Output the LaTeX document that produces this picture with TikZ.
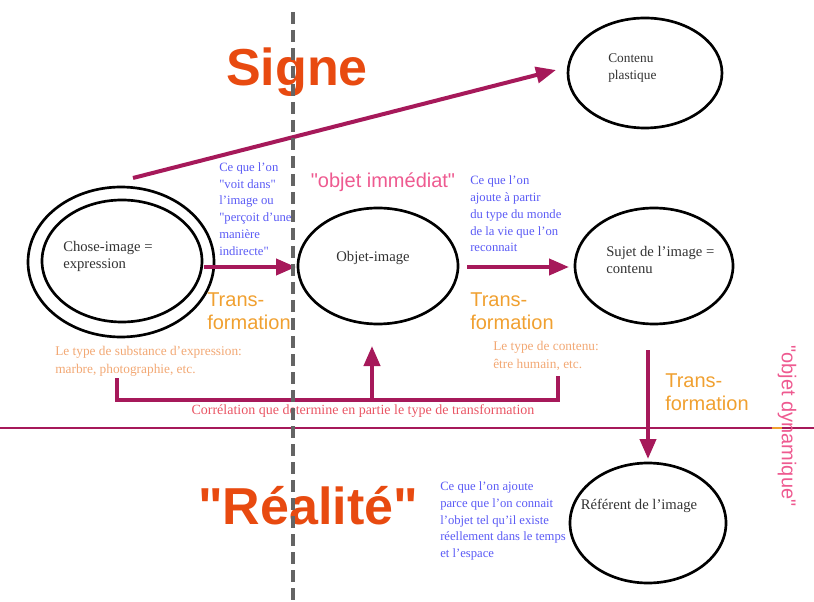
\documentclass[tikz,border=0pt]{standalone}
\usepackage{fontspec}
\setmainfont{Liberation Serif}[Ligatures=TeXOff]
\setsansfont{Liberation Sans}[Ligatures=TeXOff]
\usetikzlibrary{arrows.meta,shapes.geometric}
\definecolor{maroon}{RGB}{166,25,90}
\definecolor{signeorange}{RGB}{232,74,16}
\definecolor{transorange}{RGB}{240,160,48}
\definecolor{pinktext}{RGB}{238,90,144}
\definecolor{bluetext}{RGB}{90,90,245}
\definecolor{peachtext}{RGB}{242,168,116}
\definecolor{corrtext}{RGB}{233,85,100}
\definecolor{darktext}{RGB}{50,50,50}
\definecolor{dashgray}{RGB}{100,100,100}
\begin{document}
\begin{tikzpicture}[x=0.75pt,y=-0.75pt,
  conn/.style={draw=maroon, line width=3pt},
  arr/.style={conn, -{Triangle[length=15pt,width=12pt]}},
  oval/.style={ellipse, draw=black, line width=2pt, inner sep=0pt},
  lbl/.style={text=darktext, font=\fontsize{11}{12.75}\selectfont, align=left, inner sep=0pt},
  note/.style={text=bluetext, font=\fontsize{9.5}{12.6}\selectfont, align=left, inner sep=0pt},
  peach/.style={text=peachtext, font=\fontsize{10}{13.5}\selectfont, align=left, inner sep=0pt},
  corr/.style={text=corrtext, font=\fontsize{10.5}{12}\selectfont, inner sep=0pt},
  trans/.style={text=transorange, font=\sffamily\fontsize{15}{17}\selectfont, align=left, inner sep=0pt},
  big/.style={text=signeorange, font=\sffamily\bfseries\fontsize{39}{44}\selectfont, inner sep=0pt},
  pinklbl/.style={text=pinktext, font=\sffamily\fontsize{15}{17}\selectfont, inner sep=0pt},
]
\useasboundingbox (0,0) rectangle (814,602);

% horizontal separator
\coordinate (hl) at (0,428);
\coordinate (hr) at (814,428);
\coordinate (ol) at (772,428);
\coordinate (or) at (782,428);
\draw[maroon, line width=2pt] (hl) -- (hr);
\draw[transorange, line width=2pt] (ol) -- (or);

% ellipses
\node[oval, minimum width=139.5pt, minimum height=112.5pt] (choseout) at (121,262) {};
\node[oval, minimum width=120pt, minimum height=91.5pt] (chosein) at (122,261) {};
\node[lbl, anchor=west] (chosetxt) at (63,256) {Chose-image =\\expression};

\node[oval, minimum width=120pt, minimum height=87pt] (objet) at (378,266) {};
\node[lbl] (objettxt) at (373,258) {Objet-image};

\node[oval, minimum width=118.5pt, minimum height=87pt] (sujet) at (654,266) {};
\node[lbl, anchor=west] (sujettxt) at (606,260) {Sujet de l’image =\\contenu};

\node[oval, minimum width=115.5pt, minimum height=82.5pt] (contenu) at (645,73) {};
\node[lbl, anchor=west, font=\fontsize{10}{12.75}\selectfont] (contenutxt) at (608,68) {Contenu\\plastique};

\node[oval, minimum width=117pt, minimum height=90pt] (referent) at (648,523) {};
\node[lbl] (referenttxt) at (639,506) {Référent de l’image};

% arrows
\coordinate (a1s) at (133,178);
\coordinate (a1e) at (556,70);
\draw[arr] (a1s) -- (a1e);
\coordinate (a2s) at (204,267);
\coordinate (a2e) at (296,267);
\draw[arr] (a2s) -- (a2e);
\coordinate (a3s) at (467,267);
\coordinate (a3e) at (569,267);
\draw[arr] (a3s) -- (a3e);
\coordinate (a4s) at (648,350);
\coordinate (a4e) at (648,459);
\draw[arr] (a4s) -- (a4e);

% bracket
\coordinate (b1) at (117,378);
\coordinate (b2) at (117,400);
\coordinate (b3) at (558,400);
\coordinate (b4) at (558,376);
\draw[conn, line join=miter] (b1) -- (b2) -- (b3) -- (b4);
\coordinate (bm) at (372,400);
\coordinate (bt) at (372,346);
\draw[arr] (bm) -- (bt);

% texts
\node[big] (signe) at (297,72) {Signe};
\node[big] (realite) at (308,506) {"Réalité"};
\node[pinklbl] (immediat) at (383,182) {"objet immédiat"};
\node[pinklbl, rotate=-90] (dynamique) at (787,426) {"objet dynamique"};

\node[trans, anchor=west] (t1) at (207,311) {Trans-\\formation};
\node[trans, anchor=west] (t2) at (470,311) {Trans-\\formation};
\node[trans, anchor=west] (t3) at (665,392) {Trans-\\formation};

\node[note, anchor=west] (n1) at (219,209) {Ce que l’on\\"voit dans"\\l’image ou\\"perçoit d’une\\manière\\indirecte"};
\node[note, anchor=west] (n2) at (470,214) {Ce que l’on\\ajoute à partir\\du type du monde\\de la vie que l’on\\reconnait};
\node[note, anchor=west] (n3) at (440,521) {Ce que l’on ajoute\\parce que l’on connait\\l’objet tel qu’il existe\\réellement dans le temps\\et l’espace};

\node[peach, anchor=west] (p1) at (55,361) {Le type de substance d’expression:\\marbre, photographie, etc.};
\node[peach, anchor=west] (p2) at (493,356) {Le type de contenu:\\être humain, etc.};

\node[corr] (corrl) at (363,411) {Corrélation que determine en partie le type de transformation};

% dashed vertical
\coordinate (dtop) at (293,12);
\coordinate (dbot) at (293,602);
\draw[dashgray, line width=2.5pt, dash pattern=on 9pt off 4.5pt] (dtop) -- (dbot);
\end{tikzpicture}
\end{document}
